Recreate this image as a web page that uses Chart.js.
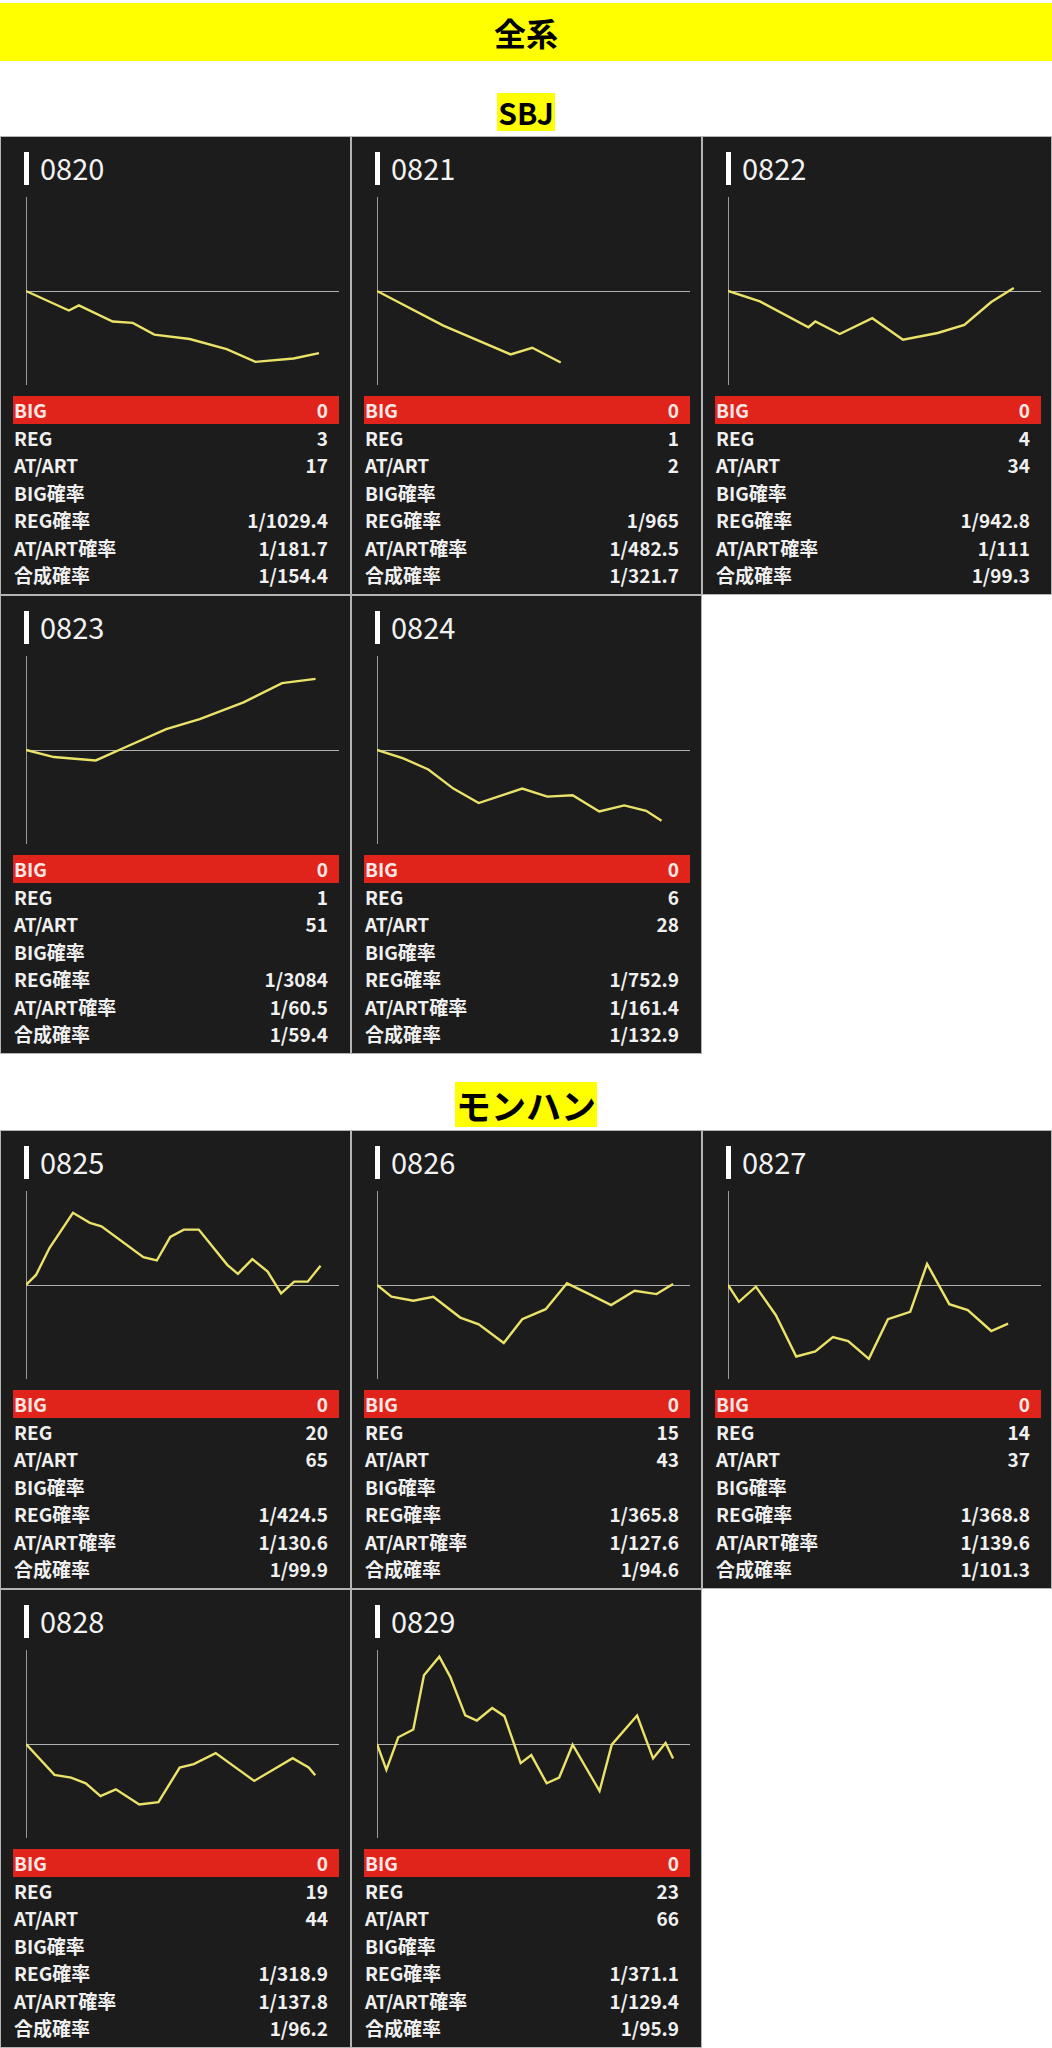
<!DOCTYPE html>
<html>
<head>
<meta charset="utf-8">
<script src="https://cdn.jsdelivr.net/npm/chart.js@4.4.1/dist/chart.umd.min.js"></script>
<style>
body { margin: 0; background: #fff; width: 1052px; height: 2048px; position: relative; overflow: hidden;
       font-family: "Noto Sans CJK JP", "Noto Sans", sans-serif; }
.band { position: absolute; left: 0; top: 3px; width: 1052px; height: 58px; background: #ffff00;
        text-align: center; line-height: 58px; font-size: 32px; font-weight: 700; color: #000; }
.label { position: absolute; left: 0; width: 1052px; text-align: center; }
.label span { background: #ffff00; font-size: 30px; font-weight: 700; color: #000; line-height: 38px; display: inline-block; padding: 0 1px; }
.label.wide span { font-size: 35px; line-height: 45px; }
.grid { position: absolute; left: 0; width: 1052px; }
.panel { position: absolute; width: 351px; height: 459px; box-sizing: border-box; background: #1c1c1c;
         border: 1px solid #b4b4b4; }
.bar { position: absolute; left: 23px; top: 15px; width: 5px; height: 33px; background: #fff; }
.ttl { position: absolute; left: 39px; top: 8px; font-size: 29px; color: #f2f2f2; line-height: 44px; }
.chartbox { position: absolute; left: 25px; top: 60px; width: 313px; height: 188px; }
.stats { position: absolute; left: 12px; top: 259px; width: 326px; }
.row { height: 27.5px; line-height: 27.5px; display: flex; justify-content: space-between;
       padding: 0 11px 0 1px; font-size: 19px; font-weight: 700; color: #f0f0f0; }
.row.big { background: #e0241c; color: #fde8e6; }
</style>
</head>
<body>
<div class="band">全系</div>
<div class="label" style="top:93px"><span>SBJ</span></div>
<div class="grid" id="grid_sbj" style="top:136px"></div>
<div class="label wide" style="top:1082px"><span>モンハン</span></div>
<div class="grid" id="grid_mh" style="top:1130px"></div>
<script>
// SBJ
const sbj_names = ["0820", "0821", "0822", "0823", "0824"];
const sbj_big = [0, 0, 0, 0, 0];
const sbj_reg = [3, 1, 4, 1, 6];
const sbj_at = [17, 2, 34, 51, 28];
const sbj_reg_rate = ["1/1029.4", "1/965", "1/942.8", "1/3084", "1/752.9"];
const sbj_at_rate = ["1/181.7", "1/482.5", "1/111", "1/60.5", "1/161.4"];
const sbj_total_rate = ["1/154.4", "1/321.7", "1/99.3", "1/59.4", "1/132.9"];

// モンハン
const mh_names = ["0825", "0826", "0827", "0828", "0829"];
const mh_big = [0, 0, 0, 0, 0];
const mh_reg = [20, 15, 14, 19, 23];
const mh_at = [65, 43, 37, 44, 66];
const mh_reg_rate = ["1/424.5", "1/365.8", "1/368.8", "1/318.9", "1/371.1"];
const mh_at_rate = ["1/130.6", "1/127.6", "1/139.6", "1/137.8", "1/129.4"];
const mh_total_rate = ["1/99.9", "1/94.6", "1/101.3", "1/96.2", "1/95.9"];

// slump graphs: progress (0-100) and coin difference
const x0820 = [0, 13.7, 16.9, 27.7, 34.1, 41, 52.3, 64.1, 73.3, 85.5, 93.6];
const y0820 = [0, -1036, -768, -1625, -1696, -2321, -2554, -3089, -3768, -3589, -3304];
const x0821 = [0, 21.2, 42.7, 49.6, 58.7];
const y0821 = [0, -1839, -3375, -3018, -3804];
const x0822 = [0, 10.2, 25.7, 27.9, 35.7, 46.1, 55.9, 67, 75.5, 84.1, 91.3];
const y0822 = [0, -554, -1929, -1625, -2286, -1446, -2589, -2232, -1804, -589, 161];
const x0823 = [0, 8.9, 22.3, 31.9, 44.8, 55.5, 69.5, 81.8, 92.5];
const y0823 = [0, -375, -554, 161, 1107, 1643, 2536, 3554, 3786];
const x0824 = [0, 8.4, 16.4, 24.4, 32.5, 46.4, 54.4, 62.5, 71, 79, 86, 90.9];
const y0824 = [0, -446, -1036, -2054, -2821, -2054, -2482, -2411, -3268, -2946, -3232, -3768];
const x0825 = [0, 3.2, 7.5, 15, 20.4, 24.1, 37.5, 41.8, 46.1, 50.4, 55.2, 64.3, 67.7, 72.3, 77.2, 81.5, 85.7, 90, 94.1];
const y0825 = [0, 536, 1964, 3839, 3304, 3125, 1482, 1304, 2554, 2946, 2946, 1071, 589, 1375, 714, -446, 179, 179, 1018];
const x0826 = [0, 4.6, 11.6, 18, 26.6, 32.5, 40.5, 46.4, 53.9, 60.7, 67.8, 74.8, 82.3, 89.3, 94.6];
const y0826 = [0, -625, -839, -625, -1732, -2089, -3089, -1821, -1286, 89, -482, -1071, -304, -482, 54];
const x0827 = [0, 3.5, 8.9, 15.3, 21.8, 27.9, 33.5, 38.4, 45, 51.1, 58.2, 63.6, 70.7, 76.6, 84.1, 89.5];
const y0827 = [0, -893, -89, -1607, -3804, -3536, -2768, -2982, -3929, -1821, -1429, 1125, -1018, -1339, -2446, -2054];
const x0828 = [0, 9.1, 14.4, 19.1, 23.8, 28.7, 36.2, 42.3, 49.1, 53.6, 60.6, 72.9, 85.2, 90.3, 92.4];
const y0828 = [0, -1643, -1786, -2089, -2768, -2411, -3214, -3089, -1250, -1071, -482, -1964, -750, -1250, -1661];
const x0829 = [0, 3, 6.8, 11.6, 15, 19.9, 23.4, 28.2, 31.9, 36.8, 40.7, 45.9, 49.3, 54.2, 58.2, 62.5, 71.1, 75, 83.1, 88.2, 92.2, 94.6];
const y0829 = [0, -1375, 357, 768, 3661, 4643, 3571, 1518, 1250, 1911, 1482, -1018, -589, -2089, -1786, -36, -2500, -36, 1518, -768, 54, -768];

const sbj_x = [x0820, x0821, x0822, x0823, x0824];
const sbj_y = [y0820, y0821, y0822, y0823, y0824];
const mh_x = [x0825, x0826, x0827, x0828, x0829];
const mh_y = [y0825, y0826, y0827, y0828, y0829];

const Y_RANGE = 5000;

//
// PANEL
//
function make_panel(grid, idx, name, xs, ys, stats) {
    const col = idx % 3;
    const rowi = Math.floor(idx / 3);
    const p = document.createElement("div");
    p.className = "panel";
    p.style.left = (col * 351) + "px";
    p.style.top = (rowi * 459) + "px";
    if (col === 2) p.style.width = "350px";

    let html = '<div class="bar"></div><div class="ttl">' + name + '</div>' +
        '<div class="chartbox"><canvas width="313" height="188"></canvas></div><div class="stats">';
    stats.forEach((s, i) => {
        html += '<div class="row' + (i === 0 ? ' big' : '') + '"><span>' + s[0] + '</span><span>' + s[1] + '</span></div>';
    });
    html += '</div>';
    p.innerHTML = html;
    grid.appendChild(p);

    const pts = xs.map((x, i) => ({ x: x, y: ys[i] }));
    new Chart(p.querySelector("canvas"), {
        type: "line",
        data: { datasets: [{ data: pts, borderColor: "#ebe26a", borderWidth: 2.4, pointRadius: 0, tension: 0 }] },
        options: {
            responsive: false,
            animation: false,
            devicePixelRatio: 1,
            layout: { padding: 0 },
            plugins: { legend: { display: false }, tooltip: { enabled: false } },
            scales: {
                x: { type: "linear", min: 0, max: 100, display: false },
                y: {
                    min: -Y_RANGE, max: Y_RANGE,
                    ticks: { display: false, stepSize: Y_RANGE },
                    border: { display: true, color: "#9a9a9a", width: 1 },
                    grid: {
                        drawTicks: false,
                        lineWidth: 1,
                        color: (c) => (c.tick && c.tick.value === 0 ? "#b0b0b0" : "rgba(0,0,0,0)")
                    }
                }
            }
        }
    });
}

function build(gridId, names, big, reg, at, regRate, atRate, totalRate, xs, ys) {
    const grid = document.getElementById(gridId);
    names.forEach((n, i) => {
        const stats = [
            ["BIG", big[i]],
            ["REG", reg[i]],
            ["AT/ART", at[i]],
            ["BIG確率", ""],
            ["REG確率", regRate[i]],
            ["AT/ART確率", atRate[i]],
            ["合成確率", totalRate[i]]
        ];
        make_panel(grid, i, n, xs[i], ys[i], stats);
    });
}

build("grid_sbj", sbj_names, sbj_big, sbj_reg, sbj_at, sbj_reg_rate, sbj_at_rate, sbj_total_rate, sbj_x, sbj_y);
build("grid_mh", mh_names, mh_big, mh_reg, mh_at, mh_reg_rate, mh_at_rate, mh_total_rate, mh_x, mh_y);
</script>
</body>
</html>
